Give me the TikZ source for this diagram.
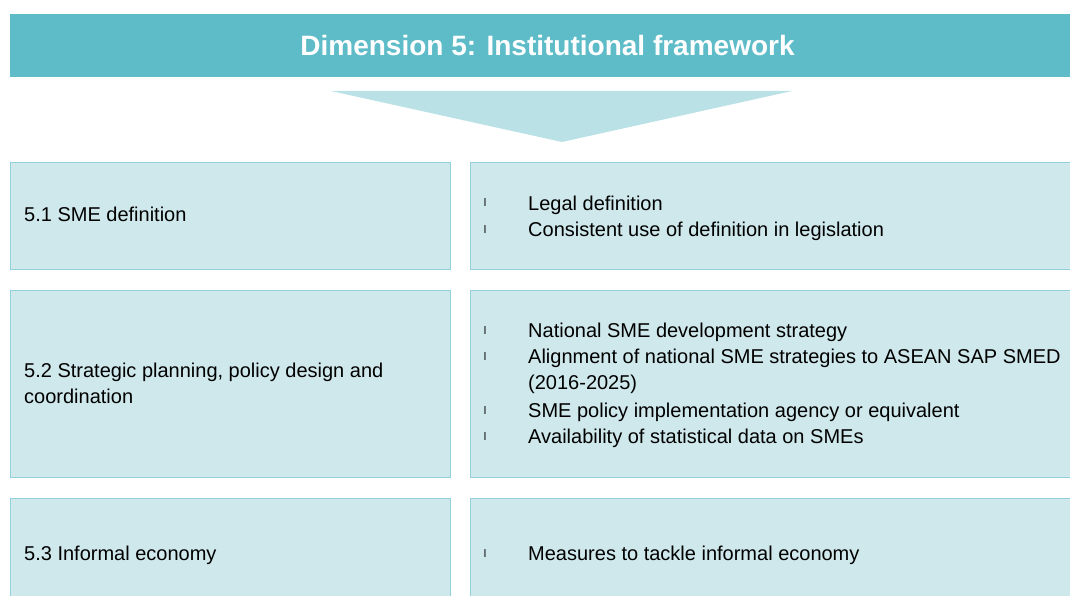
\documentclass[tikz,border=0pt]{standalone}
\usepackage{fontspec}
\setmainfont{Liberation Sans}

\definecolor{headteal}{RGB}{93,188,200}
\definecolor{arrowteal}{RGB}{185,225,230}
\definecolor{boxfill}{RGB}{207,232,236}
\definecolor{boxline}{RGB}{146,209,218}

\begin{document}
\begin{tikzpicture}[x=1pt,y=-1pt,
    every node/.style={inner sep=0pt},
    panel/.style={draw=boxline,fill=boxfill,line width=1.4pt},
    itemtext/.style={anchor=base west,font=\fontsize{20}{26}\selectfont},
    bul/.style={anchor=base,font=\fontsize{11}{11}\selectfont}]
      \useasboundingbox (0,0) rectangle (1070,596);
      % heading band and arrow
      \fill[headteal] (10,14) rectangle (1080,77);
      \node[anchor=base,text=white,font=\bfseries\fontsize{28}{32}\selectfont] (title) at (547.5,56) {Dimension 5: Institutional framework};
      \fill[arrowteal] (331,91) -- (792,91) -- (562,142) -- cycle;
      % panels
      \draw[panel] (10.7,162.7) rectangle (450.3,269.3);
      \draw[panel] (470.7,162.7) rectangle (1080,269.3);
      \draw[panel] (10.7,290.7) rectangle (450.3,477.3);
      \draw[panel] (470.7,290.7) rectangle (1080,477.3);
      \draw[panel] (10.7,498.7) rectangle (450.3,606);
      \draw[panel] (470.7,498.7) rectangle (1080,606);
      % 5.1
      \node[itemtext] (def) at (24,222) {5.1 SME definition};
      \node[bul] (b1) at (485,207) {l};
      \node[itemtext] (legal) at (528,210) {Legal definition};
      \node[bul] (b2) at (485,233) {l};
      \node[itemtext] (consist) at (528,236) {Consistent use of definition in legislation};
      % 5.2
      \node[itemtext] (plan) at (24,377) {5.2 Strategic planning, policy design and};
      \node[itemtext] (coord) at (24,403) {coordination};
      \node[bul] (b3) at (485,334) {l};
      \node[itemtext] (natl) at (528,337) {National SME development strategy};
      \node[bul] (b4) at (485,360) {l};
      \node[itemtext] (align) at (528,363) {Alignment of national SME strategies to ASEAN SAP SMED};
      \node[itemtext] (years) at (528,389) {(2016-2025)};
      \node[bul] (b5) at (485,414) {l};
      \node[itemtext] (agency) at (528,417) {SME policy implementation agency or equivalent};
      \node[bul] (b6) at (485,440) {l};
      \node[itemtext] (data) at (528,443) {Availability of statistical data on SMEs};
      % 5.3
      \node[itemtext] (informal) at (24,560) {5.3 Informal economy};
      \node[bul] (b7) at (485,557) {l};
      \node[itemtext] (tackle) at (528,560) {Measures to tackle informal economy};
    \end{tikzpicture}
\end{document}
